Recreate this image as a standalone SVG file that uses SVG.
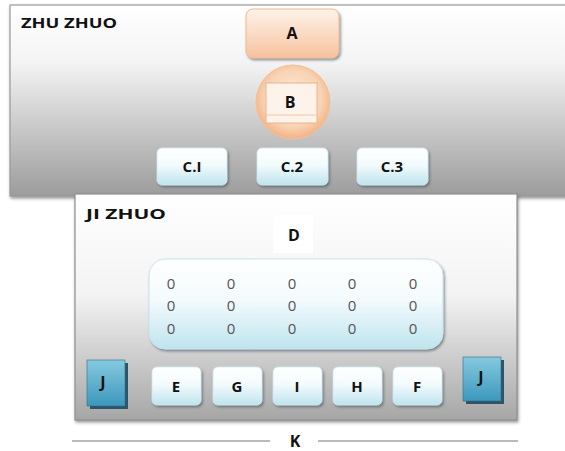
<svg xmlns="http://www.w3.org/2000/svg" width="565" height="451" viewBox="0 0 565 451">
  <defs>
    <linearGradient id="panelTop" x1="0" y1="0" x2="0" y2="1">
      <stop offset="0" stop-color="#ffffff"/>
      <stop offset="0.3" stop-color="#f4f4f4"/>
      <stop offset="1" stop-color="#9c9c9c"/>
    </linearGradient>
    <linearGradient id="panelBottom" x1="0" y1="0" x2="0" y2="1">
      <stop offset="0" stop-color="#ffffff"/>
      <stop offset="0.45" stop-color="#f3f3f3"/>
      <stop offset="1" stop-color="#a6a6a6"/>
    </linearGradient>
    <linearGradient id="peach" x1="0" y1="0" x2="0" y2="1">
      <stop offset="0" stop-color="#fef3eb"/>
      <stop offset="1" stop-color="#f7c29d"/>
    </linearGradient>
    <radialGradient id="peachRound" cx="0.5" cy="0.45" r="0.55">
      <stop offset="0" stop-color="#fdeadb"/>
      <stop offset="0.7" stop-color="#f9d3b4"/>
      <stop offset="1" stop-color="#f3b283"/>
    </radialGradient>
    <linearGradient id="ice" x1="0" y1="0" x2="0" y2="1">
      <stop offset="0" stop-color="#ffffff"/>
      <stop offset="0.45" stop-color="#f3fbfd"/>
      <stop offset="1" stop-color="#bfe4ee"/>
    </linearGradient>
    <linearGradient id="teal" x1="0" y1="0" x2="0" y2="1">
      <stop offset="0" stop-color="#86c9df"/>
      <stop offset="1" stop-color="#3c98bd"/>
    </linearGradient>
    <filter id="drop" x="-20%" y="-20%" width="150%" height="150%">
      <feDropShadow dx="1.5" dy="2" stdDeviation="1.2" flood-color="#3d4f57" flood-opacity="0.55"/>
    </filter>
    <filter id="panelDrop" x="-5%" y="-5%" width="110%" height="110%">
      <feDropShadow dx="1" dy="2" stdDeviation="1.5" flood-color="#555" flood-opacity="0.6"/>
    </filter>
  </defs>
  <style>
    .lbl { font-family: "Open Sans", Lato, "DejaVu Sans", sans-serif; font-weight: bold; fill: #111; text-anchor: middle; }
    .title { font-family: "Open Sans", Lato, "DejaVu Sans", sans-serif; font-weight: bold; fill: #111; font-size: 15px; }
    .zero { font-family: "Liberation Sans Narrow", "Open Sans", sans-serif; font-weight: normal; fill: #555; font-size: 15px; text-anchor: middle; }
    .box { fill: url(#ice); stroke: #d2e9ef; stroke-width: 0.8; filter: url(#drop); }
    .peach { fill: url(#peach); stroke: #f0b892; stroke-width: 1; }
    .jbox { fill: url(#teal); stroke: #2f6f88; stroke-width: 0.6; }
  </style>

  <rect width="565" height="451" fill="#ffffff"/>

  <!-- upper panel -->
  <g id="zhu-zhuo">
    <rect x="10" y="5" width="560" height="191" fill="url(#panelTop)" stroke="#9a9a9a" stroke-width="1.2" filter="url(#panelDrop)"/>
    <text class="title" x="21" y="28" textLength="96" lengthAdjust="spacingAndGlyphs">ZHU ZHUO</text>
  </g>

  <g id="node-a">
    <rect class="peach" x="246" y="9" width="93" height="49" rx="7" filter="url(#drop)"/>
    <text class="lbl" x="292" y="39" font-size="16">A</text>
  </g>

  <g id="node-b">
    <circle cx="293" cy="102" r="37" fill="url(#peachRound)" stroke="#f2c09a" stroke-width="1"/>
    <rect x="266" y="83" width="51" height="40" fill="#fdf3ea" stroke="#e8b58e" stroke-width="1"/>
    <line x1="267" y1="115" x2="316" y2="115" stroke="#f1c7a6" stroke-width="1"/>
    <text class="lbl" x="290" y="108" font-size="16">B</text>
  </g>

  <g id="node-c1">
    <rect class="box" x="157" y="148" width="70" height="37" rx="5"/>
    <text class="lbl" x="192" y="172" font-size="15">C.I</text>
  </g>
  <g id="node-c2">
    <rect class="box" x="257" y="148" width="71" height="37" rx="5"/>
    <text class="lbl" x="292" y="172" font-size="15">C.2</text>
  </g>
  <g id="node-c3">
    <rect class="box" x="357" y="148" width="71" height="37" rx="5"/>
    <text class="lbl" x="392" y="172" font-size="15">C.3</text>
  </g>

  <!-- lower panel -->
  <g id="ji-zhuo">
    <rect x="75" y="194" width="442" height="226" fill="url(#panelBottom)" stroke="#8f8f8f" stroke-width="1.2" filter="url(#panelDrop)"/>
    <text class="title" x="86" y="219" textLength="80" lengthAdjust="spacingAndGlyphs">JI ZHUO</text>
  </g>

  <g id="node-d">
    <rect x="273" y="215" width="40" height="38" fill="#ffffff"/>
    <text class="lbl" x="294" y="241" font-size="16">D</text>
  </g>

  <g id="matrix">
    <rect x="149" y="259" width="294" height="90" rx="16" fill="url(#ice)" stroke="#c9e3ea" stroke-width="1" filter="url(#drop)"/>
    <g class="zero">
      <text x="171" y="289">0</text><text x="231" y="289">0</text><text x="292" y="289">0</text><text x="352" y="289">0</text><text x="413" y="289">0</text>
      <text x="171" y="311">0</text><text x="231" y="311">0</text><text x="292" y="311">0</text><text x="352" y="311">0</text><text x="413" y="311">0</text>
      <text x="171" y="334">0</text><text x="231" y="334">0</text><text x="292" y="334">0</text><text x="352" y="334">0</text><text x="413" y="334">0</text>
    </g>
  </g>

  <g id="node-j-left">
    <rect x="90" y="363" width="38" height="46" fill="#2d5468"/>
    <rect class="jbox" x="87" y="360" width="38" height="46"/>
    <text class="lbl" x="103" y="388" font-size="16">J</text>
  </g>
  <g id="node-j-right">
    <rect x="466" y="360" width="38" height="44" fill="#2d5468"/>
    <rect class="jbox" x="463" y="357" width="38" height="44"/>
    <text class="lbl" x="481" y="383" font-size="16">J</text>
  </g>

  <g id="node-e">
    <rect class="box" x="152" y="367" width="49" height="38" rx="5"/>
    <text class="lbl" x="176" y="392" font-size="15">E</text>
  </g>
  <g id="node-g">
    <rect class="box" x="213" y="367" width="49" height="38" rx="5"/>
    <text class="lbl" x="237" y="392" font-size="15">G</text>
  </g>
  <g id="node-i">
    <rect class="box" x="273" y="367" width="49" height="38" rx="5"/>
    <text class="lbl" x="297" y="392" font-size="15">I</text>
  </g>
  <g id="node-h">
    <rect class="box" x="333" y="367" width="49" height="38" rx="5"/>
    <text class="lbl" x="357" y="392" font-size="15">H</text>
  </g>
  <g id="node-f">
    <rect class="box" x="393" y="367" width="49" height="38" rx="5"/>
    <text class="lbl" x="417" y="392" font-size="15">F</text>
  </g>

  <!-- span marker along the bottom -->
  <g id="connectors">
    <line x1="72" y1="441" x2="270" y2="441" stroke="#777" stroke-width="1"/>
    <line x1="318" y1="441" x2="518" y2="441" stroke="#777" stroke-width="1"/>
  </g>
  <g id="node-k">
    <text class="lbl" x="295" y="447" font-size="16">K</text>
  </g>
</svg>
